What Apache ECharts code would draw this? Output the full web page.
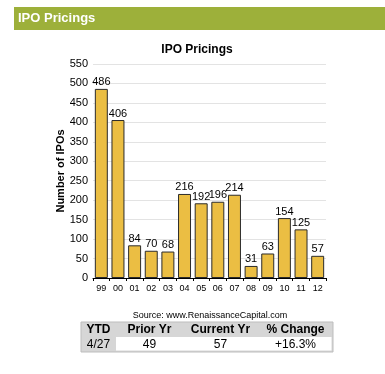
<!DOCTYPE html>
<html><head><meta charset="utf-8">
<script src="https://cdn.jsdelivr.net/npm/echarts@6/dist/echarts.min.js"></script>
<style>html,body{margin:0;padding:0;background:#fff}#c{width:385px;height:374px}</style>
</head><body><div id="c"></div>
<script>
const categories = ['99','00','01','02','03','04','05','06','07','08','09','10','11','12'];
const ipoCounts = [486,406,84,70,68,216,192,196,214,31,63,154,125,57];
const yTicks = [0,50,100,150,200,250,300,350,400,450,500,550];
const tableHeader = ['YTD','Prior Yr','Current Yr','% Change'];
const tableRow = ['4/27','49','57','+16.3%'];

const chart = echarts.init(document.getElementById('c'), null, {renderer:'canvas'});
const F = 'Liberation Sans, Arial, sans-serif';
const colX = [81, 116, 183, 258, 333];
const tblTop = 322, rowH = 15;
const g = [
  {type:'rect', shape:{x:14,y:7,width:371,height:23}, style:{fill:'#9DB03A'}},
  {type:'text', x:18, y:18.5, style:{text:'IPO Pricings', fill:'#fff', font:'bold 13px '+F, verticalAlign:'middle'}},
  {type:'text', x:210, y:316, style:{text:'Source: www.RenaissanceCapital.com', fill:'#000', font:'9px '+F, align:'center', verticalAlign:'middle'}},
  {type:'rect', shape:{x:colX[0],y:tblTop,width:colX[4]-colX[0],height:rowH*2}, style:{fill:'#D6D6D6', stroke:'#BDBDBD', lineWidth:1}},
  {type:'rect', shape:{x:colX[1],y:tblTop+rowH,width:colX[4]-colX[1]-1.5,height:rowH-1.5}, style:{fill:'#fff'}}
];
tableHeader.forEach((t,i)=>{
  g.push({type:'text', x:(colX[i]+colX[i+1])/2, y:tblTop+rowH/2+0.5, style:{text:t, fill:'#000', font:'bold 12px '+F, align:'center', verticalAlign:'middle'}});
});
tableRow.forEach((t,i)=>{
  g.push({type:'text', x:(colX[i]+colX[i+1])/2, y:tblTop+rowH*1.5, style:{text:t, fill:'#000', font:'12px '+F, align:'center', verticalAlign:'middle'}});
});

chart.setOption({
  animation:false,
  title:{text:'IPO Pricings', left:192, top:39, textAlign:'center', textStyle:{fontFamily:F, fontSize:12, fontWeight:'bold', color:'#000'}},
  grid:{left:93, right:59, top:64, bottom:96},
  xAxis:{type:'category', data:categories,
    axisLine:{lineStyle:{color:'#000', width:1}},
    axisTick:{show:true, length:3, lineStyle:{color:'#000'}},
    axisLabel:{fontFamily:F, fontSize:9, color:'#000', margin:6}},
  yAxis:{type:'value', min:0, max:550, interval:50,
    name:'Number of IPOs', nameLocation:'middle', nameGap:27, nameMoveOverlap:false,
    nameTextStyle:{fontFamily:F, fontSize:11, fontWeight:'bold', color:'#000'},
    axisLine:{show:false}, axisTick:{show:false},
    axisLabel:{fontFamily:F, fontSize:11, color:'#000', margin:5},
    splitLine:{lineStyle:{color:'#E3E3E3', width:1}}},
  series:[{type:'bar', data:ipoCounts, barCategoryGap:'22%',
    itemStyle:{color:'#EBBE43', borderColor:'#2b2b2b', borderWidth:1},
    label:{show:true, position:'top', distance:1, fontFamily:F, fontSize:11, color:'#000'}}],
  graphic:g
});
</script></body></html>
